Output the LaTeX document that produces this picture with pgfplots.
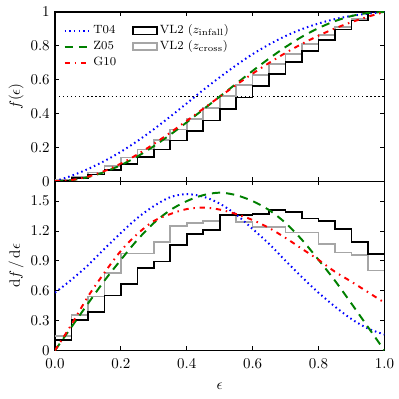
\documentclass[border=0pt]{standalone}
\usepackage{pgfplots}
\pgfplotsset{compat=1.18}
\usepackage{pgfplotstable}

\definecolor{mplgreen}{rgb}{0,0.5,0}
\definecolor{histgray}{gray}{0.65}

% VL2 histograms, bin left edges (last row repeats the last bin)
\pgfplotstableread{
x     pinf   pcross cinf   ccross
0.00  0.103  0.143  0.005  0.007
0.05  0.303  0.353  0.020  0.025
0.10  0.387  0.543  0.040  0.052
0.15  0.553  0.777  0.067  0.091
0.20  0.667  0.973  0.101  0.140
0.25  0.827  0.973  0.142  0.188
0.30  0.893  1.090  0.187  0.243
0.35  1.060  1.253  0.240  0.305
0.40  1.170  1.283  0.298  0.369
0.45  1.210  1.300  0.359  0.434
0.50  1.360  1.360  0.427  0.502
0.55  1.360  1.287  0.495  0.567
0.60  1.373  1.243  0.563  0.629
0.65  1.410  1.243  0.634  0.691
0.70  1.393  1.183  0.704  0.750
0.75  1.327  1.183  0.770  0.809
0.80  1.300  1.067  0.835  0.863
0.85  1.217  0.983  0.896  0.912
0.90  1.087  0.960  0.950  0.960
0.95  0.970  0.803  1.000  1.000
1.00  0.970  0.803  1.000  1.000
}\hist

% model curves: pdf and cdf
\pgfplotstableread{
x     ptf    pzh    pgl    ctf    czh    cgl
0.00  0.580  0.000  0.000  0.000  0.000  0.000
0.05  0.710  0.235  0.260  0.032  0.006  0.007
0.10  0.855  0.470  0.540  0.072  0.024  0.027
0.15  1.020  0.700  0.780  0.119  0.054  0.060
0.20  1.180  0.910  1.000  0.174  0.095  0.104
0.25  1.330  1.110  1.170  0.237  0.146  0.158
0.30  1.450  1.280  1.300  0.307  0.207  0.220
0.35  1.540  1.410  1.370  0.382  0.275  0.287
0.40  1.570  1.500  1.420  0.460  0.348  0.357
0.45  1.545  1.560  1.435  0.539  0.424  0.428
0.50  1.475  1.585  1.415  0.614  0.500  0.499
0.55  1.365  1.560  1.370  0.685  0.576  0.569
0.60  1.220  1.500  1.310  0.751  0.652  0.636
0.65  1.070  1.410  1.230  0.808  0.725  0.699
0.70  0.900  1.280  1.130  0.858  0.793  0.758
0.75  0.735  1.110  1.020  0.899  0.854  0.812
0.80  0.580  0.910  0.910  0.932  0.905  0.860
0.85  0.440  0.700  0.790  0.958  0.946  0.903
0.90  0.315  0.470  0.690  0.977  0.976  0.940
0.95  0.220  0.235  0.585  0.990  0.994  0.972
1.00  0.160  0.000  0.480  1.000  1.000  1.000
}\model

\pgfplotsset{
  panel/.style={
    width=220pt, height=113pt, scale only axis,
    xmin=0, xmax=1,
    xtick={0,0.2,0.4,0.6,0.8,1},
    tick align=inside,
    major tick length=2.8pt,
    axis line style={line width=0.9pt},
    tick style={line width=0.6pt, black},
    minor tick num=0,
  },
  tfour/.style={blue, line width=1.3pt, dash pattern=on 1pt off 2.1pt},
  zfive/.style={mplgreen, line width=1.3pt, dash pattern=on 5.5pt off 4pt},
  gten/.style={red, line width=1.3pt, dash pattern=on 3.5pt off 3.2pt on 1pt off 3.2pt},
  vlinf/.style={black, line width=1.1pt},
  vlcross/.style={histgray, line width=1.1pt},
  boxlegend/.style={legend image code/.code={\draw[##1] (0pt,-2.4pt) rectangle (16pt,2.4pt);}},
}

\begin{document}
\begin{tikzpicture}
\begin{axis}[panel, name=top, at={(0,0)}, anchor=south west,
    ymin=0, ymax=1, ytick={0,0.2,0.4,0.6,0.8,1},
    xticklabels={},
    ylabel={$f(\epsilon)$},
    ylabel style={at={(axis description cs:-0.118,0.5)}, anchor=center},
    legend columns=2,
    legend cell align=left,
    legend style={draw=none, fill=none, font=\footnotesize,
      at={(axis description cs:0.012,0.955)}, anchor=north west,
      row sep=0pt,
      nodes={inner sep=1.5pt, text height=5.8pt, text depth=1.8pt},
      /tikz/every even column/.append style={column sep=9pt}},
]
\addlegendimage{tfour}
\addlegendentry{T04}
\addlegendimage{vlinf, boxlegend}
\addlegendentry{VL2 ($z_{\mathrm{infall}}$)}
\addlegendimage{zfive}
\addlegendentry{Z05}
\addlegendimage{vlcross, boxlegend}
\addlegendentry{VL2 ($z_{\mathrm{cross}}$)}
\addlegendimage{gten}
\addlegendentry{G10}

\addplot[black, line width=0.8pt, dash pattern=on 0.8pt off 1.9pt, forget plot] coordinates {(0,0.5) (1,0.5)};
\addplot[vlcross, const plot, forget plot] table[x=x, y=ccross] {\hist};
\addplot[vlinf, const plot, forget plot] table[x=x, y=cinf] {\hist};
\addplot[tfour, smooth, forget plot] table[x=x, y=ctf] {\model};
\addplot[zfive, smooth, forget plot] table[x=x, y=czh] {\model};
\addplot[gten, smooth, forget plot] table[x=x, y=cgl] {\model};
\end{axis}

\begin{axis}[panel, name=bot, at={(top.south west)}, anchor=north west,
    ymin=0, ymax=1.7, ytick={0,0.3,0.6,0.9,1.2,1.5},
    xticklabel style={/pgf/number format/fixed, /pgf/number format/precision=1,
      /pgf/number format/fixed zerofill, yshift=-2.3pt},
    xlabel={$\epsilon$},
    xlabel style={at={(axis description cs:0.5,-0.21)}, anchor=center},
    ylabel={$\mathrm{d}f\,/\,\mathrm{d}\epsilon$},
    ylabel style={at={(axis description cs:-0.118,0.5)}, anchor=center},
]
\addplot[vlcross, const plot] table[x=x, y=pcross] {\hist};
\addplot[vlinf, const plot] table[x=x, y=pinf] {\hist};
\addplot[tfour, smooth] table[x=x, y=ptf] {\model};
\addplot[zfive, smooth] table[x=x, y=pzh] {\model};
\addplot[gten, smooth] table[x=x, y=pgl] {\model};
\end{axis}

\path ([shift={(-36.7pt,-32pt)}]bot.south west) rectangle ([shift={(9.3pt,8pt)}]top.north east);
\end{tikzpicture}
\end{document}
